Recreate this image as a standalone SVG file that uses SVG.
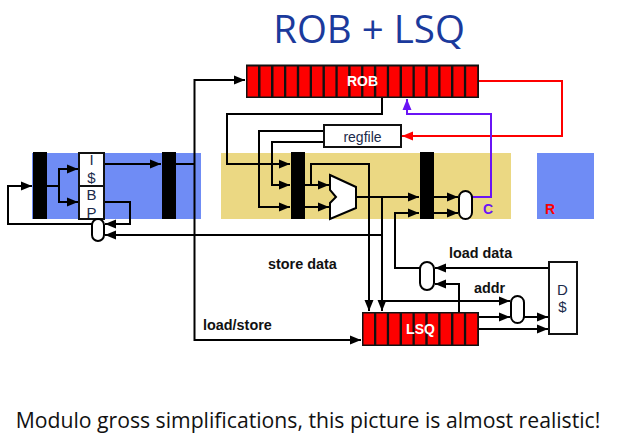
<svg xmlns="http://www.w3.org/2000/svg" width="624" height="443" viewBox="0 0 624 443">
<style>
.w{fill:none;stroke:#000;stroke-width:2}
.bar{fill:#000}
.band{fill:#6f8cf5}
.box{fill:#fff;stroke:#111;stroke-width:2}
.mux{fill:#fff;stroke:#000;stroke-width:2}
text{font-family:"Liberation Sans",Arial,sans-serif}
.lb{font-size:14.400px;font-weight:bold;fill:#111}
.in{font-size:15px;fill:#1b2a4a;text-anchor:middle}
.tag{font-size:14px;font-weight:bold}
.cap{font-family:"Open Sans",sans-serif}
</style>
<defs>
<marker id="a" markerUnits="userSpaceOnUse" markerWidth="12" markerHeight="10" refX="11" refY="5" orient="auto"><path d="M0,0.500L11,5L0,9.500z" fill="#000"/></marker>
<marker id="r" markerUnits="userSpaceOnUse" markerWidth="12" markerHeight="10" refX="11" refY="5" orient="auto"><path d="M0,0.500L11,5L0,9.500z" fill="#fe0000"/></marker>
<marker id="p" markerUnits="userSpaceOnUse" markerWidth="12" markerHeight="10" refX="11" refY="5" orient="auto"><path d="M0,0.500L11,5L0,9.500z" fill="#6a14f5"/></marker>
</defs>
<g id="stages">
<rect class="band" x="32" y="153" width="169" height="66"/>
<rect x="221" y="153" width="290" height="66" fill="#ebd883"/>
<rect class="band" x="537" y="153" width="57" height="66"/>
</g>
<text class="cap" x="369" y="43" font-size="38.500" text-anchor="middle" fill="#1b3a9c">ROB + LSQ</text>
<g id="connectors">
<path class="w" d="M47,186H59V169H78" marker-end="url(#a)"/>
<path class="w" d="M59,186V202H78" marker-end="url(#a)"/>
<path class="w" d="M92,224H8V186H32" marker-end="url(#a)"/>
<path class="w" d="M104,202H130V224H105" marker-end="url(#a)"/>
<path class="w" d="M104,164H161" marker-end="url(#a)"/>
<path class="w" d="M176,164H194.500"/>
<path class="w" d="M194.500,164V340H361" marker-end="url(#a)"/>
<path class="w" d="M194.500,164V80H245" marker-end="url(#a)"/>
<path class="w" d="M382,235H105" marker-end="url(#a)"/>
<path class="w" d="M382,98V114H227V164H290" marker-end="url(#a)"/>
<path class="w" d="M324,131H259V207H290" marker-end="url(#a)"/>
<path class="w" d="M324,142H272V185H290" marker-end="url(#a)"/>
<path class="w" d="M305,185H329" marker-end="url(#a)"/>
<path class="w" d="M305,207H329" marker-end="url(#a)"/>
<path class="w" d="M311,185V164H369V311" marker-end="url(#a)"/>
<path class="w" d="M356,197H419" marker-end="url(#a)"/>
<path class="w" d="M382,197V311" marker-end="url(#a)"/>
<path class="w" d="M420,268H395V213H419" marker-end="url(#a)"/>
<path class="w" d="M434,197H458" marker-end="url(#a)"/>
<path class="w" d="M434,213H458" marker-end="url(#a)"/>
<path class="w" d="M549,268H435" marker-end="url(#a)"/>
<path class="w" d="M459,312V284H435" marker-end="url(#a)"/>
<path class="w" d="M382,301H510" marker-end="url(#a)"/>
<path class="w" d="M478,317H510" marker-end="url(#a)"/>
<path class="w" d="M524,317H548" marker-end="url(#a)"/>
<path class="w" d="M478,329H548" marker-end="url(#a)"/>
<path d="M479,81H562V136H402" fill="none" stroke="#fe0000" stroke-width="2" marker-end="url(#r)"/>
<path d="M472,197H491V114H407V99" fill="none" stroke="#6a14f5" stroke-width="2" marker-end="url(#p)"/>
</g>
<g id="fetch-latch-a"><rect class="bar" x="33" y="152" width="14" height="67"/></g>
<g id="icache-bp">
<rect class="box" x="79" y="153" width="25" height="66"/>
<path d="M79,186H104" stroke="#111" stroke-width="2"/>
<text class="in" x="91.500" y="165">I</text>
<text class="in" x="91.500" y="182.700">$</text>
<text class="in" x="91.500" y="199.700">B</text>
<text class="in" x="91.500" y="218">P</text>
</g>
<g id="fetch-mux"><rect class="mux" x="92" y="219" width="12" height="22" rx="6"/></g>
<g id="fetch-latch-b"><rect class="bar" x="162" y="152" width="14" height="67"/></g>
<g id="rob">
<rect x="246" y="64.500" width="233" height="33.500" fill="#111"/>
<g fill="#fe0000">
<rect x="247.500" y="66.500" width="10.500" height="30"/><rect x="260.500" y="66.500" width="10.500" height="30"/><rect x="273.500" y="66.500" width="10.500" height="30"/><rect x="286.300" y="66.500" width="10.500" height="30"/><rect x="299.200" y="66.500" width="10.500" height="30"/><rect x="312" y="66.500" width="10.500" height="30"/><rect x="324.900" y="66.500" width="10.500" height="30"/><rect x="337.700" y="66.500" width="10.500" height="30"/><rect x="350.600" y="66.500" width="10.500" height="30"/><rect x="363.400" y="66.500" width="10.500" height="30"/><rect x="376.300" y="66.500" width="10.500" height="30"/><rect x="389.100" y="66.500" width="10.500" height="30"/><rect x="402" y="66.500" width="10.500" height="30"/><rect x="414.800" y="66.500" width="10.500" height="30"/><rect x="427.700" y="66.500" width="10.500" height="30"/><rect x="440.500" y="66.500" width="10.500" height="30"/><rect x="453.400" y="66.500" width="10.500" height="30"/><rect x="466.200" y="66.500" width="11" height="30"/>
</g>
<text x="362.500" y="86" font-size="14" font-weight="bold" fill="#fff" text-anchor="middle">ROB</text>
</g>
<g id="regfile"><rect class="box" x="324" y="125" width="77" height="22"/><text x="362.500" y="141.500" font-size="14" fill="#1b2a4a" text-anchor="middle">regfile</text></g>
<g id="latch-c"><rect class="bar" x="291" y="152" width="14" height="67"/></g>
<g id="alu"><path class="mux" d="M330,175L356,187V208L330,219V203L336,197L330,190Z"/></g>
<g id="latch-d"><rect class="bar" x="420" y="152" width="14" height="67"/></g>
<g id="commit-mux"><rect class="mux" x="459" y="191" width="13" height="28" rx="6.500"/></g>
<g id="load-mux"><rect class="mux" x="420" y="262" width="14" height="28" rx="7"/></g>
<g id="addr-mux"><rect class="mux" x="511" y="296" width="13" height="27" rx="6.500"/></g>
<g id="dcache"><rect class="box" x="549" y="262" width="28" height="72"/><text class="in" x="562.500" y="295">D</text><text class="in" x="562.500" y="312">$</text></g>
<g id="lsq">
<rect x="362" y="312" width="117" height="34" fill="#111"/>
<g fill="#fe0000">
<rect x="363.500" y="313.500" width="10.500" height="31"/><rect x="376.300" y="313.500" width="10.500" height="31"/><rect x="389.100" y="313.500" width="10.500" height="31"/><rect x="402" y="313.500" width="10.500" height="31"/><rect x="414.800" y="313.500" width="10.500" height="31"/><rect x="427.700" y="313.500" width="10.500" height="31"/><rect x="440.500" y="313.500" width="10.500" height="31"/><rect x="453.400" y="313.500" width="10.500" height="31"/><rect x="466.200" y="313.500" width="11" height="31"/>
</g>
<text x="420.500" y="334" font-size="14" font-weight="bold" fill="#fff" text-anchor="middle">LSQ</text>
</g>
<text class="tag" x="483" y="214" fill="#6a14f5">C</text>
<text class="tag" x="545" y="214" fill="#fe0000">R</text>
<text class="lb" x="268" y="269">store data</text>
<text class="lb" x="203" y="330">load/store</text>
<text class="lb" x="449" y="258">load data</text>
<text class="lb" x="474" y="293">addr</text>
<text class="cap" x="308" y="428" font-size="21.200" fill="#111" text-anchor="middle">Modulo gross simplifications, this picture is almost realistic!</text>
</svg>
